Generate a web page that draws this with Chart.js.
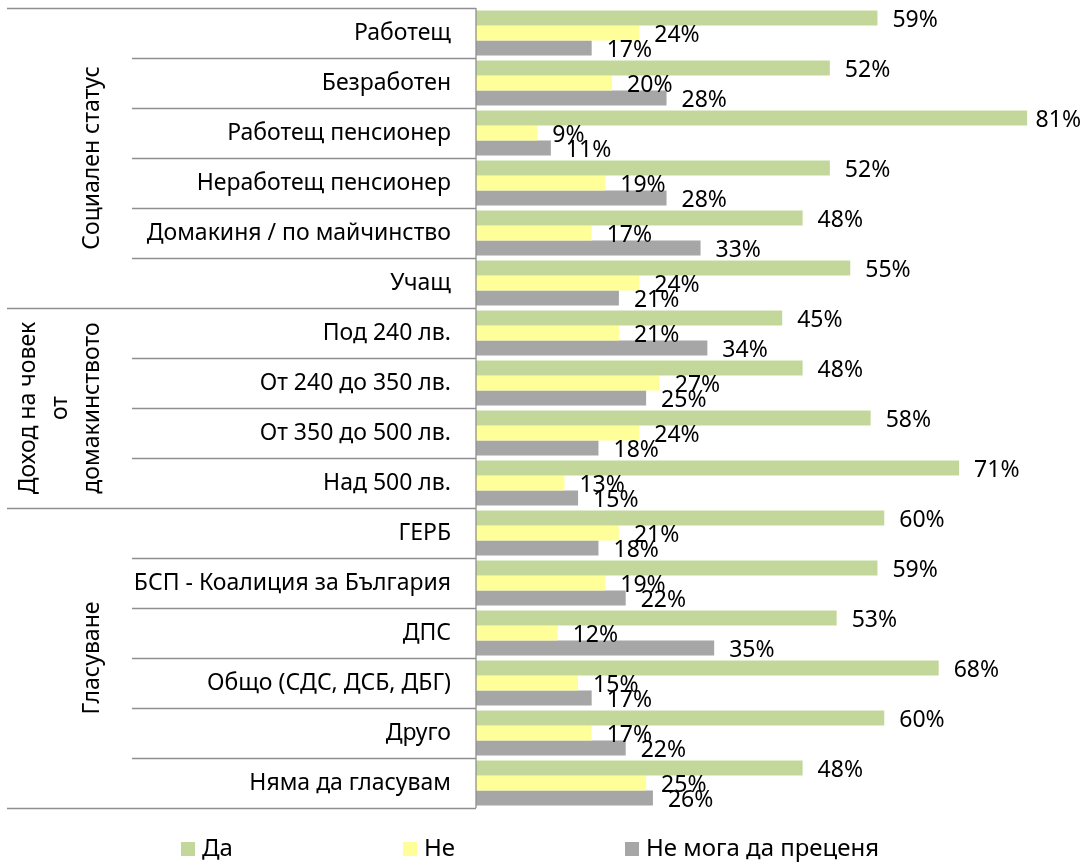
<!DOCTYPE html>
<html>
<head>
<meta charset="utf-8">
<script src="https://cdn.jsdelivr.net/npm/chart.js@4.4.1/dist/chart.umd.min.js"></script>
<style>
html,body{margin:0;padding:0;background:#fff;}
#wrap{position:relative;width:1085px;height:864px;}
</style>
</head>
<body>
<div id="wrap"><canvas id="c"></canvas></div>
<script>
const categories = [
  'Работещ','Безработен','Работещ пенсионер','Неработещ пенсионер','Домакиня / по майчинство','Учащ',
  'Под 240 лв.','От 240 до 350 лв.','От 350 до 500 лв.','Над 500 лв.',
  'ГЕРБ','БСП - Коалиция за България','ДПС','Общо (СДС, ДСБ, ДБГ)','Друго','Няма да гласувам'
];
const seriesNames = ['Да','Не','Не мога да преценя'];
const da     = [59,52,81,52,48,55, 45,48,58,71, 60,59,53,68,60,48];
const ne     = [24,20, 9,19,17,24, 21,27,24,13, 21,19,12,15,17,25];
const nemoga = [17,28,11,28,33,21, 34,25,18,15, 18,22,35,17,22,26];
const groupLabels = [['Социален статус'], ['Доход на човек','от','домакинството'], ['Гласуване']];
const groupStarts = [0, 6, 10];
const groupEnds   = [6, 10, 16];

const colors = ['#C4D79B','#FFFF99','#A6A6A6'];
const FONT = "'Noto Sans', sans-serif";
const FS = 23;

const decorPlugin = {
  id: 'decor',
  afterDraw(chart) {
    const ctx = chart.ctx;
    const area = chart.chartArea;
    const n = categories.length;
    const step = (area.bottom - area.top) / n;
    ctx.save();
    ctx.strokeStyle = '#8f8f8f';
    ctx.lineWidth = 1.3;
    ctx.beginPath();
    ctx.moveTo(area.left, area.top);
    ctx.lineTo(area.left, area.bottom);
    ctx.stroke();
    const groupBounds = new Set([0, ...groupEnds]);
    for (let i = 0; i <= n; i++) {
      const yy = Math.round(area.top + i * step) + 0.5;
      const x0 = groupBounds.has(i) ? 7 : 132;
      ctx.beginPath();
      ctx.moveTo(x0, yy);
      ctx.lineTo(area.left, yy);
      ctx.stroke();
    }
    ctx.fillStyle = '#000';
    ctx.font = FS + 'px ' + FONT;
    ctx.textAlign = 'center';
    ctx.textBaseline = 'middle';
    groupLabels.forEach((lines, g) => {
      const cy = area.top + (groupStarts[g] + groupEnds[g]) / 2 * step;
      const lh = 32;
      const lastX = 92;
      lines.forEach((t, k) => {
        const cx = lastX - (lines.length - 1 - k) * lh;
        ctx.save();
        ctx.translate(cx, cy);
        ctx.rotate(-Math.PI / 2);
        ctx.fillText(t, 0, 0);
        ctx.restore();
      });
    });
    ctx.textAlign = 'left';
    chart.data.datasets.forEach((ds, di) => {
      const meta = chart.getDatasetMeta(di);
      meta.data.forEach((bar, i) => {
        const t = ds.data[i] + '%';
        const w = ctx.measureText(t).width;
        const x = Math.min(bar.x + 15, chart.width - w - 4);
        ctx.fillText(t, x, bar.y + 2);
      });
    });
    ctx.font = '24px ' + FONT;
    const legendX = [181, 403, 625];
    const ly = 849;
    seriesNames.forEach((name, k) => {
      ctx.fillStyle = colors[k];
      ctx.fillRect(legendX[k], ly - 7, 14, 14);
      ctx.fillStyle = '#000';
      ctx.fillText(name, legendX[k] + 21, ly);
    });
    ctx.restore();
  }
};

new Chart(document.getElementById('c'), {
  type: 'bar',
  data: {
    labels: categories,
    datasets: [
      { label: seriesNames[0], data: da, backgroundColor: colors[0] },
      { label: seriesNames[1], data: ne, backgroundColor: colors[1] },
      { label: seriesNames[2], data: nemoga, backgroundColor: colors[2] }
    ]
  },
  options: {
    indexAxis: 'y',
    responsive: true,
    maintainAspectRatio: false,
    animation: false,
    datasets: { bar: { categoryPercentage: 0.9, barPercentage: 1.0, borderWidth: 0 } },
    layout: { padding: { top: 8, bottom: 56, left: 0, right: 0 } },
    scales: {
      x: { display: false, min: 0, max: 89.5 },
      y: {
        grid: { display: false },
        border: { display: false },
        ticks: { padding: 17, color: '#000', font: { family: FONT, size: FS } },
        afterFit(s) { s.width = 476; s.paddingTop = 0; s.paddingBottom = 0; }
      }
    },
    plugins: { legend: { display: false }, tooltip: { enabled: false } }
  },
  plugins: [decorPlugin]
});
</script>
</body>
</html>
